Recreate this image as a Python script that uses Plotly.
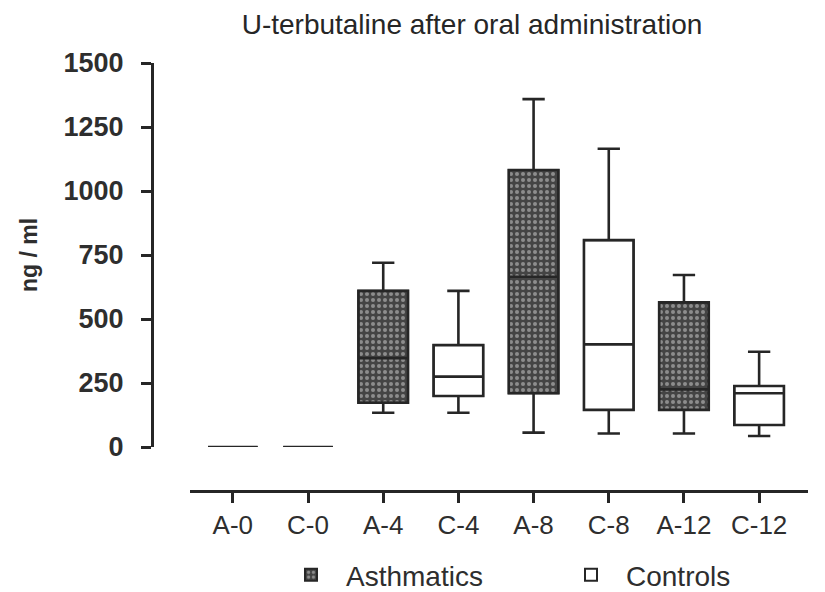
"""U-terbutaline box plot after oral administration."""

import plotly.graph_objects as go

# group / time point labels
categories = ["A-0", "C-0", "A-4", "C-4", "A-8", "C-8", "A-12", "C-12"]
groups = ["Asthmatics", "Controls"] * 4

# box statistics (ng/ml)
q1 = [0, 0, 173, 199, 210, 145, 145, 86]
median = [0, 0, 347, 275, 665, 401, 225, 210]
q3 = [0, 0, 610, 398, 1082, 808, 565, 238]
low = [0, 0, 134, 134, 56, 53, 53, 43]
high = [0, 0, 720, 610, 1359, 1165, 672, 372]

y_ticks = [0, 250, 500, 750, 1000, 1250, 1500]

FONT = "Liberation Sans, Arial, sans-serif"
INK = "#262626"
TEXT = "#2e2e2e"
BOX_W = 0.66

# the page body adds an 8px margin, so the figure is drawn 8px smaller
OFF = 8
W, H = 825 - OFF, 592 - OFF

fig = go.Figure()

styles = {
    "Asthmatics": {
        "color": "#444444",
        "line": {"color": INK, "width": 2},
        "pattern": {
            "shape": ".",
            "fgcolor": "#d6d6d6",
            "bgcolor": "#444444",
            "size": 6,
            "solidity": 0.35,
        },
    },
    "Controls": {"color": "white", "line": {"color": INK, "width": 2}},
}

# fills (bars between the quartiles) carry the legend
for group in ("Asthmatics", "Controls"):
    idx = [i for i, g in enumerate(groups) if g == group]
    fig.add_trace(
        go.Bar(
            x=[categories[i] for i in idx],
            y=[q3[i] - q1[i] for i in idx],
            base=[q1[i] for i in idx],
            width=BOX_W,
            name=group,
            marker=styles[group],
            hoverinfo="skip",
        )
    )

# outlines, medians and whiskers
for group in ("Asthmatics", "Controls"):
    idx = [i for i, g in enumerate(groups) if g == group]
    fig.add_trace(
        go.Box(
            x=[categories[i] for i in idx],
            q1=[q1[i] for i in idx],
            median=[median[i] for i in idx],
            q3=[q3[i] for i in idx],
            lowerfence=[low[i] for i in idx],
            upperfence=[high[i] for i in idx],
            width=BOX_W,
            whiskerwidth=0.45,
            fillcolor="rgba(0,0,0,0)",
            line={"color": INK, "width": 2.6},
            showlegend=False,
            name=group,
        )
    )

plot_top, plot_bottom = 63 - OFF, 491 - OFF
zero_px = 447 - OFF
y_dom_start = (plot_bottom - zero_px) / (plot_bottom - plot_top)
plot_left, plot_right = 152 - OFF, 808 - OFF
x_axis_start = 190 - OFF

fig.update_layout(
    width=W,
    height=H,
    margin={
        "l": plot_left,
        "r": W - plot_right,
        "t": plot_top,
        "b": H - plot_bottom,
        "autoexpand": False,
    },
    paper_bgcolor="white",
    plot_bgcolor="white",
    barmode="overlay",
    boxmode="overlay",
    font={"family": FONT, "color": TEXT},
    title={
        "text": "U-terbutaline after oral administration",
        "x": (472 - OFF) / W,
        "xanchor": "center",
        "y": 1 - (24 - OFF) / H,
        "yanchor": "middle",
        "font": {"size": 28, "color": "#262626"},
    },
    xaxis={
        "domain": [(x_axis_start - plot_left) / (plot_right - plot_left), 1],
        "anchor": "free",
        "position": 0,
        "range": [-0.57, 7.65],
        "categoryorder": "array",
        "categoryarray": categories,
        "showline": True,
        "linecolor": INK,
        "linewidth": 3,
        "ticks": "outside",
        "ticklen": 10,
        "tickwidth": 3,
        "tickcolor": INK,
        "showgrid": False,
        "zeroline": False,
        "tickfont": {"size": 26, "color": TEXT},
    },
    yaxis={
        "domain": [y_dom_start, 1],
        "anchor": "free",
        "position": 0,
        "range": [0, 1500],
        "tickvals": y_ticks,
        "showline": True,
        "linecolor": INK,
        "linewidth": 3,
        "ticks": "outside",
        "ticklen": 10,
        "tickwidth": 3,
        "tickcolor": INK,
        "ticklabelstandoff": 12,
        "showgrid": False,
        "zeroline": False,
        "tickfont": {"size": 27, "color": TEXT, "weight": "bold"},
        "title": {
            "text": "ng / ml",
            "font": {"size": 23, "color": TEXT, "weight": "bold"},
            "standoff": 18,
        },
    },
    legend={
        "orientation": "h",
        "xref": "container",
        "yref": "container",
        "x": (276 - OFF) / W,
        "xanchor": "left",
        "y": 1 - (575 - OFF) / H,
        "yanchor": "middle",
        "itemwidth": 60,
        "entrywidth": 205,
        "font": {"size": 28, "color": TEXT},
        "bgcolor": "rgba(0,0,0,0)",
    },
)

fig.write_html("out.html")
